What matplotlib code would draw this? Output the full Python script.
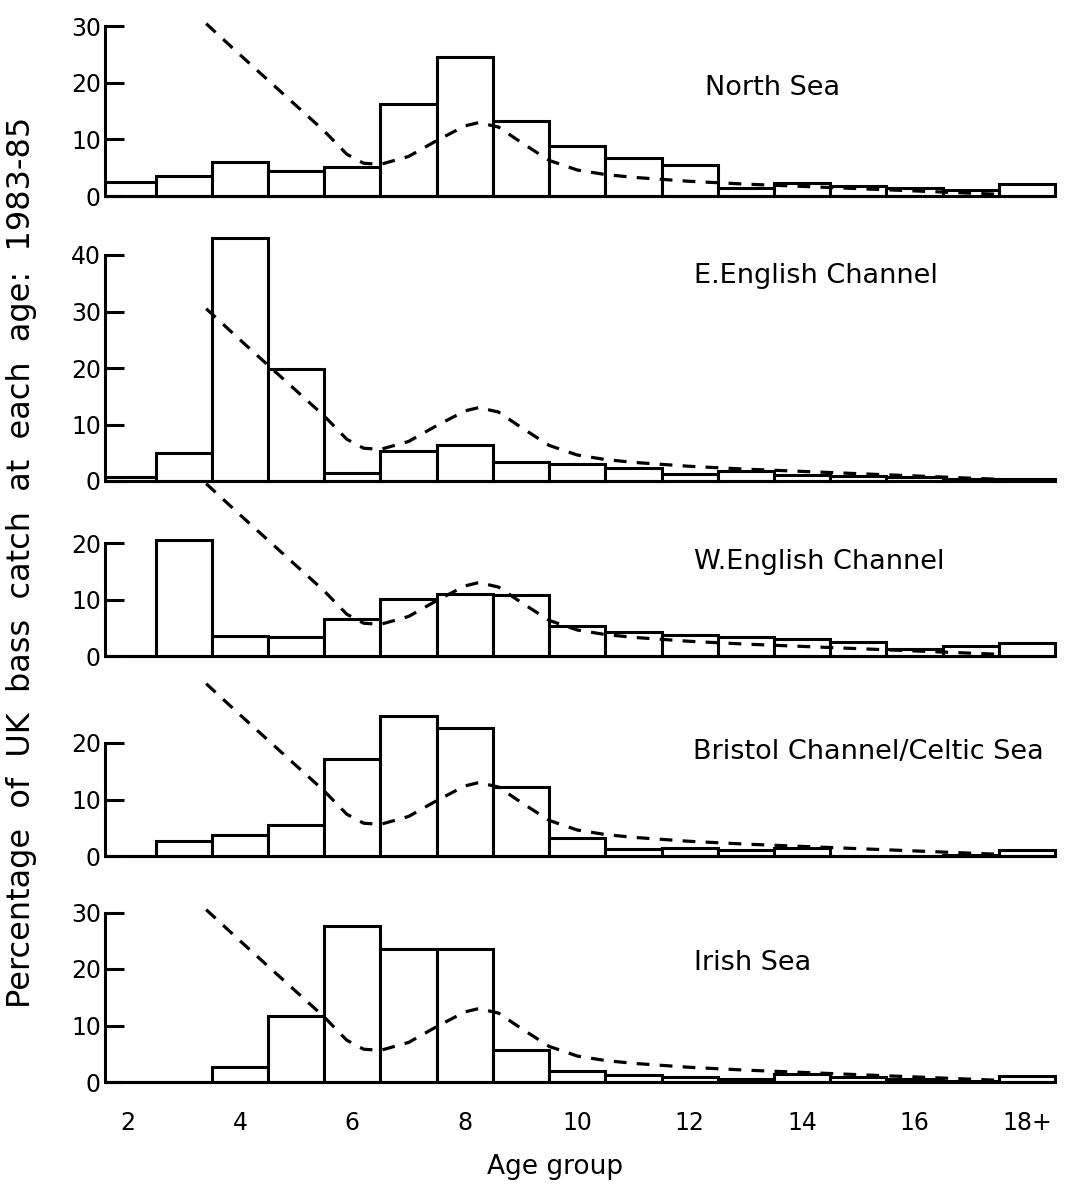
import matplotlib.pyplot as plt

# age groups (18 = "18+")
ages = list(range(2, 19))
age_ticks = [2, 4, 6, 8, 10, 12, 14, 16, 18]
age_ticklabels = ["2", "4", "6", "8", "10", "12", "14", "16", "18+"]

regions = ["North Sea", "E.English Channel", "W.English Channel",
           "Bristol Channel/Celtic Sea", "Irish Sea"]

# percentage of UK bass catch at each age, 1983-85
north_sea = [2.5, 3.5, 6.0, 4.5, 5.2, 16.2, 24.6, 13.2, 8.9, 6.7, 5.4, 1.4, 2.3, 1.7, 1.5, 1.1, 2.2]
e_channel = [0.7, 4.9, 43.0, 19.9, 1.5, 5.3, 6.3, 3.3, 3.0, 2.3, 1.2, 1.7, 1.1, 0.9, 0.7, 0.3, 0.3]
w_channel = [0.0, 20.6, 3.6, 3.3, 6.6, 10.1, 10.9, 10.8, 5.3, 4.3, 3.7, 3.3, 3.0, 2.4, 1.3, 1.8, 2.3]
bristol = [0.0, 2.6, 3.8, 5.5, 17.1, 24.8, 22.6, 12.3, 3.2, 1.3, 1.4, 1.0, 1.5, 0.0, 0.0, 0.2, 1.0]
irish = [0.0, 0.0, 2.6, 11.7, 27.6, 23.6, 23.5, 5.7, 1.9, 1.2, 0.8, 0.6, 1.5, 0.8, 0.5, 0.2, 1.1]
catches = [north_sea, e_channel, w_channel, bristol, irish]

# dashed reference curve (same in every panel)
curve_age = [3.4, 4.0, 4.5, 5.0, 5.5, 5.9, 6.2, 6.5, 7.0, 7.5, 8.0, 8.25, 8.6, 9.0,
             9.5, 10.0, 10.5, 11.0, 12.0, 13.0, 14.0, 15.0, 16.0, 17.0, 17.5]
curve_pct = [30.5, 25.0, 20.5, 16.0, 11.5, 7.4, 5.8, 5.6, 7.0, 9.8, 12.4, 13.0, 12.2, 9.5,
             6.3, 4.6, 3.8, 3.3, 2.6, 2.1, 1.7, 1.3, 0.9, 0.5, 0.3]

top_ticks = [30, 40, 20, 20, 30]

# layout (pixels)
W, H = 1072, 1185
px = 5.65                      # pixels per percent
zero_px = [196, 481, 656, 856, 1082]
left_px = 105
x0, x1 = 1.6, 18.8
label_pos = [(12.28, 19.1), (12.07, 36.3), (12.07, 16.6), (12.05, 18.4), (12.07, 21.1)]

fig = plt.figure(figsize=(W / 100, H / 100), dpi=100)
lw = 2.2

for i in range(5):
    ybot, ytop = -3, 45 if i == 1 else 33
    bottom_px = zero_px[i] - ybot * px
    height_px = (ytop - ybot) * px
    ax = fig.add_axes([left_px / W, 1 - bottom_px / H, (W - left_px) / W, height_px / H])
    ax.set_facecolor("none")
    ax.set_xlim(x0, x1)
    ax.set_ylim(ybot, ytop)

    ax.bar(ages, catches[i], width=1.0, color="white", edgecolor="black", linewidth=lw)
    ax.hlines(0, x0, ages[-1] + 0.5, color="black", linewidth=lw)
    ax.plot(curve_age, curve_pct, color="black", linewidth=2.3, dashes=(4, 3.2))

    for s in ["top", "right", "bottom"]:
        ax.spines[s].set_visible(False)
    ax.spines["left"].set_linewidth(lw)
    ax.spines["left"].set_bounds(0, top_ticks[i])
    ax.set_yticks(range(0, top_ticks[i] + 1, 10))
    ax.tick_params(axis="y", direction="in", length=14, width=lw, labelsize=17, pad=3)

    if i == 4:
        ax.set_xticks(age_ticks)
        ax.set_xticklabels(age_ticklabels)
        ax.tick_params(axis="x", length=0, labelsize=17, pad=9)
    else:
        ax.set_xticks([])

    ax.text(label_pos[i][0], label_pos[i][1], regions[i], fontsize=19.5,
            ha="left", va="center")

fig.text(22 / W, 1 - 562 / H, "Percentage  of  UK  bass  catch  at  each  age:  1983-85",
         rotation=90, fontsize=23, ha="center", va="center")
fig.text(555 / W, 1 - 1167 / H, "Age group", fontsize=19, ha="center", va="center")

plt.savefig("out.png", dpi=100)
